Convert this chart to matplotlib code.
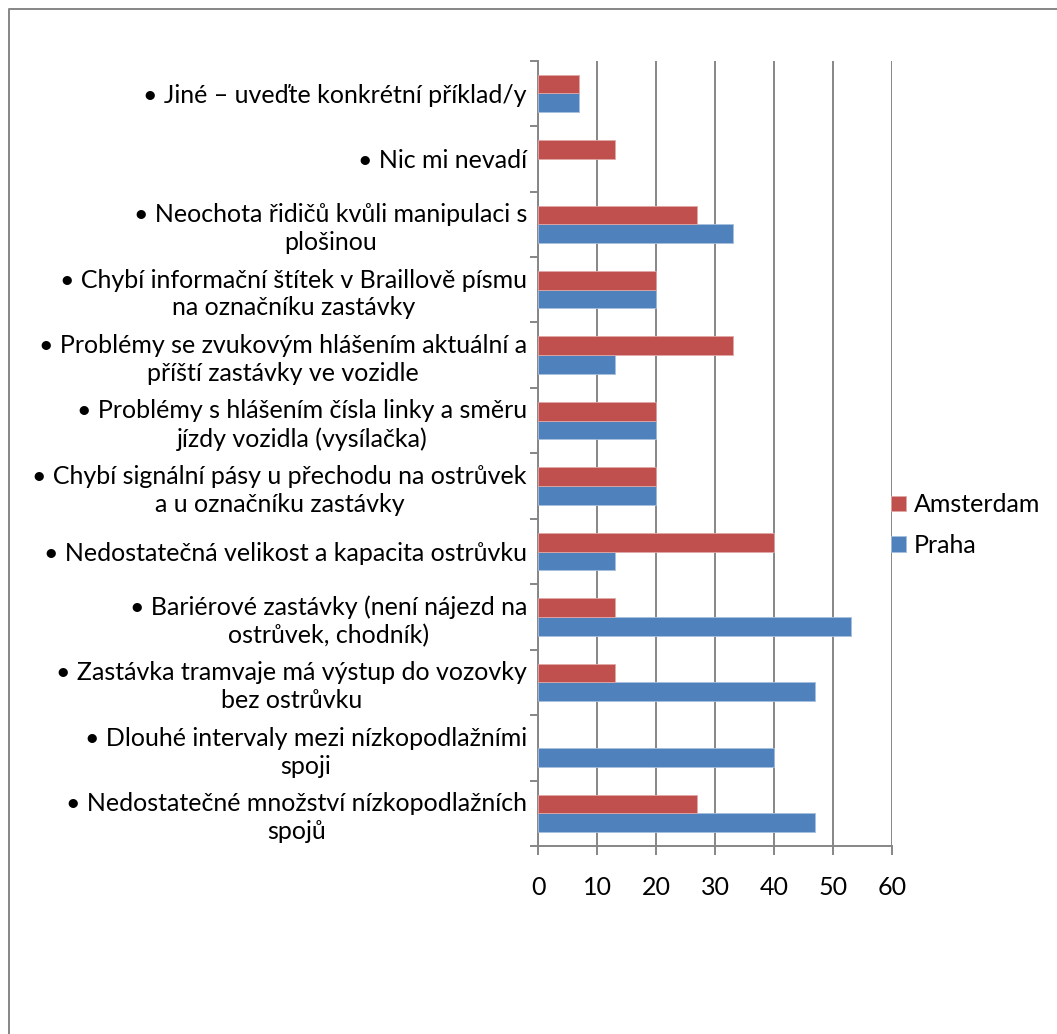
#!/usr/bin/env python3
"""
Survey chart: problems reported at tram stops, Praha vs Amsterdam.
Writes out.png
"""

import numpy as np
import matplotlib
matplotlib.use("Agg")
import matplotlib.pyplot as plt
from matplotlib.lines import Line2D


# -----------------------------
# Data (bottom to top)
# -----------------------------
categories = [
    "• Nedostatečné množství nízkopodlažních\nspojů",
    "• Dlouhé intervaly mezi nízkopodlažními\nspoji",
    "• Zastávka tramvaje má výstup do vozovky\nbez ostrůvku",
    "• Bariérové zastávky (není nájezd na\nostrůvek, chodník)",
    "• Nedostatečná velikost a kapacita ostrůvku",
    "• Chybí signální pásy u přechodu na ostrůvek\na u označníku zastávky",
    "• Problémy s hlášením čísla linky a směru\njízdy vozidla (vysílačka)",
    "• Problémy se zvukovým hlášením aktuální a\npříští zastávky ve vozidle",
    "• Chybí informační štítek v Braillově písmu\nna označníku zastávky",
    "• Neochota řidičů kvůli manipulaci s\nplošinou",
    "• Nic mi nevadí",
    "• Jiné – uveďte konkrétní příklad/y",
]
praha = [47, 40, 47, 53, 13, 20, 20, 13, 20, 33, 0, 7]
amsterdam = [27, 0, 13, 13, 40, 20, 20, 33, 20, 27, 13, 7]
x_ticks = [0, 10, 20, 30, 40, 50, 60]

BLUE = "#4F81BD"
RED = "#C0504D"
GRID = "#868686"

plt.rcParams["font.family"] = ["Lato", "DejaVu Sans"]
FS = 18


def edge_widths(values):
    # no outline on empty bars, otherwise a sliver shows at zero
    return [0.6 if v > 0 else 0 for v in values]


def main():
    W, H = 1057, 1034
    fig = plt.figure(figsize=(W / 100, H / 100), dpi=100)
    ax = fig.add_axes([538 / W, 1 - 846 / H, (892 - 538) / W, (846 - 60.7) / H])

    y = np.arange(len(categories))
    bh = 0.286
    ax.barh(y - bh / 2, praha, height=bh, color=BLUE, edgecolor="#A7C0DE",
            linewidth=edge_widths(praha), label="Praha", zorder=3)
    ax.barh(y + bh / 2, amsterdam, height=bh, color=RED, edgecolor="#E0A8A6",
            linewidth=edge_widths(amsterdam), label="Amsterdam", zorder=3)

    ax.set_xlim(0, 60)
    ax.set_ylim(-0.5, len(categories) - 0.5)

    # x axis: gridlines + outward ticks
    ax.set_xticks(x_ticks)
    ax.set_xticklabels([str(t) for t in x_ticks], fontsize=FS)
    ax.xaxis.grid(True, color=GRID, linewidth=1.4, zorder=0)
    ax.tick_params(axis="x", direction="out", length=6.5, width=1.4,
                   color=GRID, pad=15)

    # y axis: labels at centres, tick marks at category boundaries
    ax.set_yticks(y)
    ax.set_yticklabels(categories, fontsize=FS)
    plt.setp(ax.get_yticklabels(), multialignment="center", linespacing=1.25)
    ax.set_yticks(np.arange(-0.5, len(categories)), minor=True)
    ax.tick_params(axis="y", which="major", length=0, pad=8)
    ax.tick_params(axis="y", which="minor", direction="out", length=6,
                   width=1.4, color=GRID)

    for side in ["top", "right"]:
        ax.spines[side].set_visible(False)
    for side in ["left", "bottom"]:
        ax.spines[side].set_color(GRID)
        ax.spines[side].set_linewidth(1.4)

    handles, labels = ax.get_legend_handles_labels()
    fig.legend(handles[::-1], labels[::-1], loc="center left",
               bbox_to_anchor=(891 / W, 1 - 525 / H), frameon=False,
               fontsize=FS, handlelength=0.6, handleheight=0.6,
               handletextpad=0.3, labelspacing=0.7, borderpad=0,
               borderaxespad=0)

    # chart area border (top and left edges)
    fig.add_artist(Line2D([9 / W, 9 / W, 1.0], [0.0, 1 - 9 / H, 1 - 9 / H],
                          transform=fig.transFigure, color=GRID, linewidth=1.4))

    fig.savefig("out.png", dpi=100, facecolor="white")
    plt.close(fig)


if __name__ == "__main__":
    main()
